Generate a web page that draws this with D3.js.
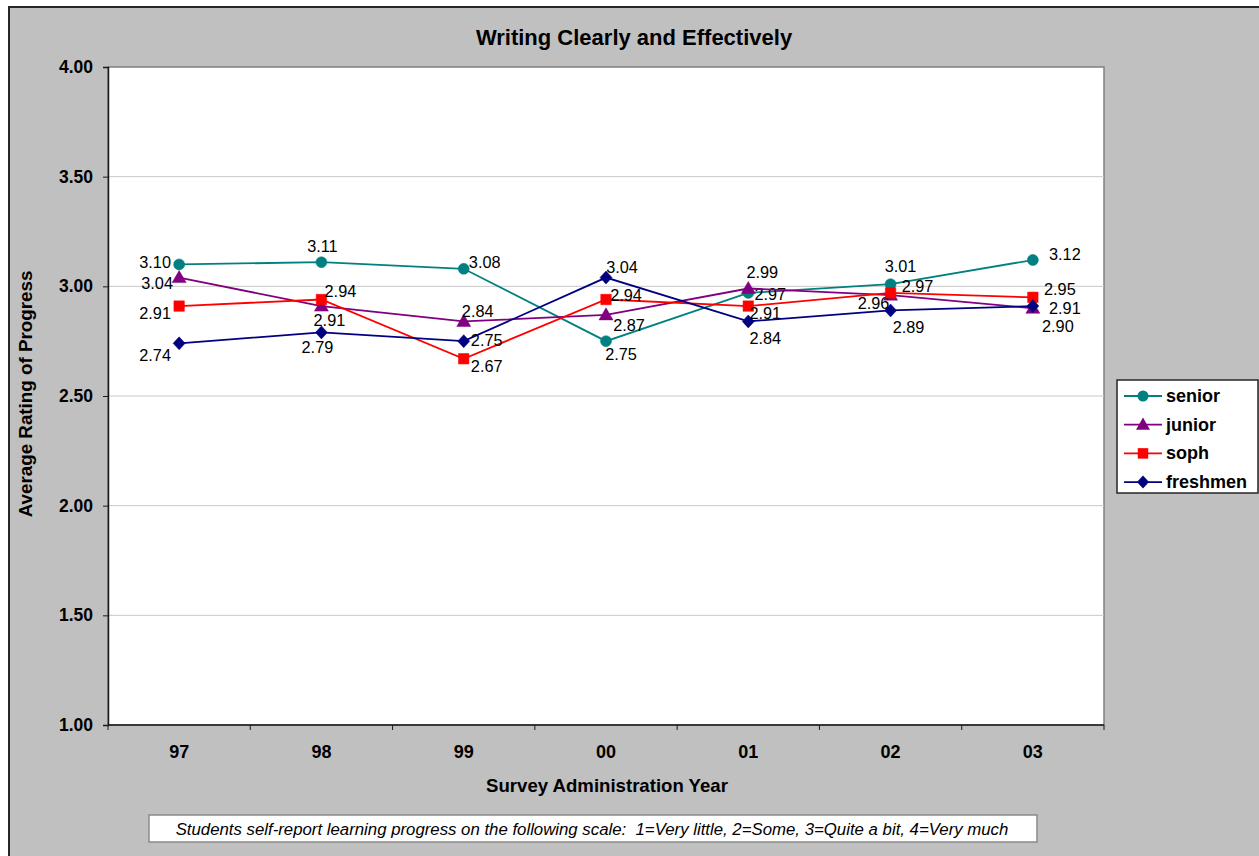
<!DOCTYPE html>
<html>
<head>
<meta charset="utf-8">
<script src="https://cdn.jsdelivr.net/npm/d3@7/dist/d3.min.js"></script>
<style>
  html, body { margin: 0; padding: 0; background: #ffffff; }
  svg { display: block; font-family: "Liberation Sans", Arial, sans-serif; }
</style>
</head>
<body>
<svg id="chart" width="1259" height="856"></svg>
<script>
// Survey years and ratings per class
const years = ["97", "98", "99", "00", "01", "02", "03"];
const seriesNames = ["senior", "junior", "soph", "freshmen"];
const senior   = [3.10, 3.11, 3.08, 2.75, 2.97, 3.01, 3.12];
const junior   = [3.04, 2.91, 2.84, 2.87, 2.99, 2.96, 2.90];
const soph     = [2.91, 2.94, 2.67, 2.94, 2.91, 2.97, 2.95];
const freshmen = [2.74, 2.79, 2.75, 3.04, 2.84, 2.89, 2.91];
const yTicks   = [1.00, 1.50, 2.00, 2.50, 3.00, 3.50, 4.00];

const titleText = "Writing Clearly and Effectively";
const yTitle = "Average Rating of Progress";
const xTitle = "Survey Administration Year";
const noteText = "Students self-report learning progress on the following scale:  1=Very little, 2=Some, 3=Quite a bit, 4=Very much";

// Per-series styling
const colors  = ["#008080", "#800080", "#ff0000", "#000080"];
const markers = ["circle", "triangle", "square", "diamond"];

// Value-label nudges (dx, dy from each point) to keep labels from colliding
const labelNudge = [
  [[-24,-2],[1,-16],[21,-7],[15,13],[22,1],[10,-18],[32,-6]],
  [[-22,5],[8,14],[14,-10],[23,10],[14,-17],[-17,8],[25,18]],
  [[-24,7],[19,-8],[23,7],[20,-4],[17,7],[27,-7],[27,-8]],
  [[-24,12],[-4,15],[23,-1],[16,-11],[17,17],[18,17],[32,2]]
];

const seriesValues = [senior, junior, soph, freshmen];
const series = seriesNames.map((name, i) => ({
  name, color: colors[i], marker: markers[i],
  values: seriesValues[i].map((v, j) => ({ year: years[j], value: v, nudge: labelNudge[i][j] }))
}));

const svg = d3.select("#chart");
const W = 1259, H = 856;

// Chart background with frame
svg.append("rect").attr("x", 9).attr("y", 7).attr("width", W - 9 + 2).attr("height", H - 7 + 2)
  .attr("fill", "#c0c0c0").attr("stroke", "#262626").attr("stroke-width", 2);

const plot = { left: 108, top: 67, right: 1104, bottom: 725 };

const x = d3.scaleBand().domain(years).range([plot.left, plot.right]).padding(0);
const y = d3.scaleLinear().domain([1, 4]).range([plot.bottom, plot.top]);

// Plot area
svg.append("rect")
  .attr("x", plot.left).attr("y", plot.top)
  .attr("width", plot.right - plot.left).attr("height", plot.bottom - plot.top)
  .attr("fill", "#ffffff").attr("stroke", "#808080").attr("stroke-width", 1.5);

// Gridlines
svg.append("g").selectAll("line")
  .data(yTicks.filter(t => t > 1 && t < 4))
  .join("line")
  .attr("x1", plot.left).attr("x2", plot.right)
  .attr("y1", d => y(d)).attr("y2", d => y(d))
  .attr("stroke", "#c8c8c8").attr("stroke-width", 1);

// Y axis
const yAxis = d3.axisLeft(y).tickValues(yTicks).tickFormat(d3.format(".2f")).tickSize(5).tickPadding(10);
const gy = svg.append("g").attr("transform", `translate(${plot.left},0)`).call(yAxis);
gy.select(".domain").attr("stroke", "#1a1a1a").attr("stroke-width", 1.5);
gy.selectAll(".tick line").attr("stroke", "#1a1a1a");
gy.selectAll(".tick text")
  .attr("font-family", "Liberation Sans, Arial, sans-serif")
  .attr("font-size", 17.5).attr("font-weight", "bold").attr("fill", "#000");

// X axis: ticks at band boundaries, labels centred in bands
const gx = svg.append("g").attr("transform", `translate(0,${plot.bottom})`);
gx.append("line").attr("x1", plot.left).attr("x2", plot.right).attr("y1", 0).attr("y2", 0)
  .attr("stroke", "#1a1a1a").attr("stroke-width", 1.5);
const bounds = years.map(d => x(d)).concat([x(years[years.length - 1]) + x.bandwidth()]);
gx.selectAll("line.tk").data(bounds).join("line").attr("class", "tk")
  .attr("x1", d => d).attr("x2", d => d).attr("y1", 0).attr("y2", 5)
  .attr("stroke", "#1a1a1a").attr("stroke-width", 1);
gx.selectAll("text").data(years).join("text")
  .attr("x", d => x(d) + x.bandwidth() / 2).attr("y", 27)
  .attr("text-anchor", "middle").attr("dominant-baseline", "central")
  .attr("font-size", 18).attr("font-weight", "bold").attr("fill", "#000")
  .text(d => d);

// Marker path generator
function markerPath(type) {
  if (type === "diamond") return "M0,-6.5L6,0L0,6.5L-6,0Z";
  const sym = { circle: d3.symbolCircle, triangle: d3.symbolTriangle, square: d3.symbolSquare }[type];
  const size = { circle: 95, triangle: 85, square: 110 }[type];
  return d3.symbol(sym, size)();
}

const line = d3.line().x(d => x(d.year) + x.bandwidth() / 2).y(d => y(d.value));

const gs = svg.append("g").selectAll("g").data(series).join("g");
gs.append("path")
  .attr("d", d => line(d.values))
  .attr("fill", "none").attr("stroke", d => d.color).attr("stroke-width", 1.8);

gs.each(function (s) {
  d3.select(this).selectAll("path.m").data(s.values).join("path").attr("class", "m")
    .attr("d", markerPath(s.marker))
    .attr("transform", d => `translate(${x(d.year) + x.bandwidth() / 2},${y(d.value) + (s.marker === "triangle" ? 1 : 0)})`)
    .attr("fill", s.color).attr("stroke", s.color).attr("stroke-width", 0.5);
});

// Value labels
gs.each(function (s) {
  d3.select(this).selectAll("text.v").data(s.values).join("text").attr("class", "v")
    .attr("x", d => x(d.year) + x.bandwidth() / 2 + d.nudge[0])
    .attr("y", d => y(d.value) + d.nudge[1])
    .attr("text-anchor", "middle").attr("dominant-baseline", "central")
    .attr("font-size", 16.3).attr("fill", "#000")
    .text(d => d3.format(".2f")(d.value));
});

// Title
svg.append("text").attr("x", 634).attr("y", 37)
  .attr("text-anchor", "middle").attr("dominant-baseline", "central")
  .attr("font-size", 22).attr("font-weight", "bold").attr("fill", "#000")
  .text(titleText);

// Axis titles
svg.append("text").attr("transform", "translate(25,394) rotate(-90)")
  .attr("text-anchor", "middle").attr("dominant-baseline", "central")
  .attr("font-size", 18.8).attr("font-weight", "bold").attr("fill", "#000")
  .text(yTitle);
svg.append("text").attr("x", 607).attr("y", 785)
  .attr("text-anchor", "middle").attr("dominant-baseline", "central")
  .attr("font-size", 18.6).attr("font-weight", "bold").attr("fill", "#000")
  .text(xTitle);

// Legend
const lg = svg.append("g");
lg.append("rect").attr("x", 1117).attr("y", 380).attr("width", 141).attr("height", 113)
  .attr("fill", "#ffffff").attr("stroke", "#262626").attr("stroke-width", 1.5);
const items = lg.selectAll("g").data(series).join("g")
  .attr("transform", (d, i) => `translate(0,${396 + i * 28.7})`);
items.append("line").attr("x1", 1124).attr("x2", 1162).attr("y1", 0).attr("y2", 0)
  .attr("stroke", d => d.color).attr("stroke-width", 1.8);
items.append("path").attr("d", d => markerPath(d.marker))
  .attr("transform", d => `translate(1143,${d.marker === "triangle" ? 1 : 0})`)
  .attr("fill", d => d.color);
items.append("text").attr("x", 1166).attr("y", 0).attr("dominant-baseline", "central")
  .attr("font-size", 18).attr("font-weight", "bold").attr("fill", "#000")
  .text(d => d.name);

// Scale note
svg.append("rect").attr("x", 149).attr("y", 815).attr("width", 888).attr("height", 27)
  .attr("fill", "#ffffff").attr("stroke", "#8a8a8a").attr("stroke-width", 1.5);
svg.append("text").attr("x", 592).attr("y", 829)
  .attr("text-anchor", "middle").attr("dominant-baseline", "central")
  .attr("font-size", 16.8).attr("font-style", "italic").attr("fill", "#000")
  .style("white-space", "pre")
  .text(noteText);
</script>
</body>
</html>
